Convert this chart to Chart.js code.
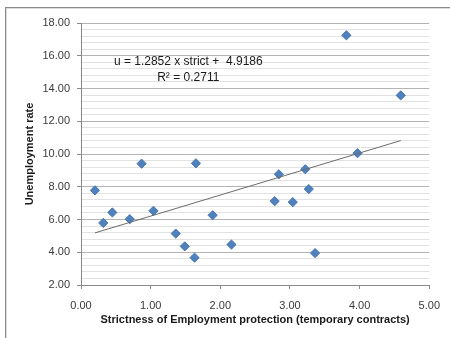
<!DOCTYPE html>
<html>
<head>
<meta charset="utf-8">
<script src="https://cdn.jsdelivr.net/npm/chart.js@4.4.1/dist/chart.umd.min.js"></script>
<style>
html, body { margin: 0; padding: 0; background: #fff; overflow: hidden; }
#wrap { position: relative; width: 450px; height: 338px; }
#frame { position: absolute; left: 5px; top: 7px; width: 520px; height: 420px;
         border-top: 1px solid #8a8a8a; border-left: 1px solid #8a8a8a;
         box-shadow: inset 1px 1px 0 #dcdcdc; }
canvas { position: absolute; left: 0; top: 0; }
</style>
</head>
<body>
<div id="wrap">
  <div id="frame"></div>
  <canvas id="chart" width="450" height="338"></canvas>
</div>
<script>
// strictness of employment protection (temporary contracts) vs unemployment rate
const strictness = [0.20, 0.32, 0.45, 0.70, 0.87, 1.04, 1.36, 1.49, 1.63, 1.65, 1.89, 2.16,
                    2.78, 2.84, 3.04, 3.22, 3.27, 3.36, 3.81, 3.97, 4.59];
const unemployment = [7.78, 5.79, 6.43, 6.02, 9.41, 6.53, 5.14, 4.36, 3.67, 9.43, 6.26, 4.47,
                      7.12, 8.76, 7.06, 9.07, 7.86, 3.95, 17.25, 10.05, 13.58];

// linear trend line end points
const trendX = [0.20, 4.59];
const trendY = [5.18, 10.82];

const eqLines = ["u = 1.2852 x strict +  4.9186", "R\u00b2 = 0.2711"];

const isMajor = v => Math.abs(v / 2 - Math.round(v / 2)) < 1e-6;

const equationLabel = {
    id: "equationLabel",
    afterDatasetsDraw(chart) {
        const ctx = chart.ctx;
        const x = chart.scales.x.getPixelForValue(1.54);
        ctx.save();
        ctx.font = "12px 'Liberation Sans', Arial, sans-serif";
        ctx.fillStyle = "#1a1a1a";
        ctx.textAlign = "center";
        ctx.textBaseline = "middle";
        ctx.fillText(eqLines[0], x, chart.scales.y.getPixelForValue(15.65));
        ctx.fillText(eqLines[1], x, chart.scales.y.getPixelForValue(14.65));
        ctx.restore();
    }
};

const ctx = document.getElementById("chart").getContext("2d");
new Chart(ctx, {
    type: "scatter",
    data: {
        datasets: [
            {
                label: "trend",
                data: trendX.map((x, i) => ({ x, y: trendY[i] })),
                showLine: true,
                borderColor: "#6b6b6b",
                borderWidth: 1,
                pointRadius: 0
            },
            {
                label: "countries",
                data: strictness.map((x, i) => ({ x, y: unemployment[i] })),
                pointStyle: "rectRot",
                pointRadius: 4.6,
                backgroundColor: "#4f81bd",
                borderColor: "#4575b0",
                borderWidth: 1
            }
        ]
    },
    options: {
        responsive: false,
        animation: false,
        layout: { padding: { left: 0, top: 23, right: 19, bottom: 0 } },
        plugins: {
            legend: { display: false },
            tooltip: { enabled: false }
        },
        scales: {
            x: {
                type: "linear",
                min: 0,
                max: 5,
                afterFit: s => { s.height = 53; },
                ticks: {
                    stepSize: 1,
                    padding: 10,
                    color: "#3a3a3a",
                    font: { family: "'Liberation Sans', Arial, sans-serif", size: 11 },
                    callback: v => v.toFixed(2)
                },
                grid: { drawOnChartArea: false, tickLength: 4, tickColor: "#8a8a8a" },
                border: { color: "#8a8a8a" },
                title: {
                    display: true,
                    text: "Strictness of Employment protection (temporary contracts)",
                    color: "#1a1a1a",
                    font: { family: "'Liberation Sans', Arial, sans-serif", size: 11, weight: "bold" },
                    padding: { top: 0, bottom: 11 }
                }
            },
            y: {
                min: 2,
                max: 18,
                afterFit: s => { s.width = 81; },
                ticks: {
                    stepSize: 0.4,
                    maxTicksLimit: 100,
                    autoSkip: false,
                    padding: 7,
                    color: "#3a3a3a",
                    font: { family: "'Liberation Sans', Arial, sans-serif", size: 11 },
                    callback: v => isMajor(v) ? v.toFixed(2) : ""
                },
                grid: {
                    tickLength: 4,
                    color: c => isMajor(c.tick.value) ? "#b4b4b4" : "#e2e2e2",
                    tickColor: c => isMajor(c.tick.value) ? "#8a8a8a" : "rgba(0,0,0,0)"
                },
                border: { color: "#8a8a8a" },
                title: {
                    display: true,
                    text: "Unemployment rate",
                    color: "#1a1a1a",
                    font: { family: "'Liberation Sans', Arial, sans-serif", size: 11, weight: "bold" },
                    padding: { top: 23.4, bottom: 0 }
                }
            }
        }
    },
    plugins: [equationLabel]
});
</script>
</body>
</html>
